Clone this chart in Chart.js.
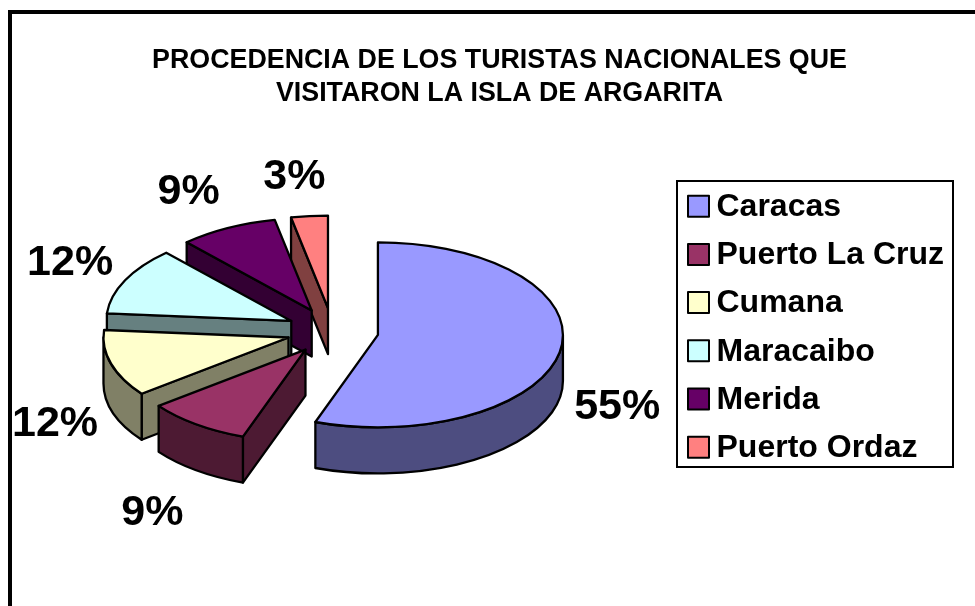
<!DOCTYPE html>
<html>
<head>
<meta charset="utf-8">
<style>html,body{margin:0;padding:0;background:#fff}canvas{display:block}</style>
<script src="https://cdn.jsdelivr.net/npm/chart.js@4/dist/chart.umd.js"></script>
</head>
<body>
<canvas id="c" width="975" height="606"></canvas>
<script>
const titleLines = ['PROCEDENCIA DE LOS TURISTAS NACIONALES QUE', 'VISITARON LA ISLA DE ARGARITA'];
const categories = ['Caracas', 'Puerto La Cruz', 'Cumana', 'Maracaibo', 'Merida', 'Puerto Ordaz'];
const shares = [55.49, 9.1, 11.7, 11.9, 8.61, 3.2];
const topColors = ['#9999FF', '#993366', '#FFFFCC', '#CCFFFF', '#660066', '#FF8080'];
const wallColors = ['#4D4D80', '#4D1A33', '#808066', '#668080', '#330033', '#804040'];

const FONT = '"Liberation Sans", Arial, sans-serif';
const SQUASH = 0.5, DEPTH = 46, EXPLODE = 46, STROKE = 2.3;
const LEGEND_FONT = 32, LEGEND_PAD = 16.2;
const LABEL_FONT = 43;
const labelNudge = [[57, 56.5], [-44, 88.5], [-56, 60.5], [-55, -17], [-39, -35.5], [-15, -38.5]];

const pie3d = {
  id: 'pie3d',
  afterLayout(chart) {
    const r = 185, cx = 332.6, cy = 331;
    chart.chartArea = {left: cx - r, right: cx + r, top: cy - r, bottom: cy + r, width: 2 * r, height: 2 * r};
    const t = chart.titleBlock;
    t.left = 24; t.right = 975; t.top = 0; t.bottom = 110;
    const l = chart.legend;
    const w = l.width, h = l.height;
    l.left = 672.3; l.right = l.left + w; l.top = 175; l.bottom = l.top + h;
  },
  beforeDraw(chart) {
    const c = chart.ctx;
    c.save();
    c.fillStyle = '#fff';
    c.fillRect(0, 0, chart.width, chart.height);
    c.strokeStyle = '#000';
    c.lineWidth = 4;
    c.beginPath();
    c.moveTo(10, 606); c.lineTo(10, 12); c.lineTo(975, 12);
    c.stroke();
    // legend frame
    c.lineWidth = 2;
    c.fillStyle = '#fff';
    c.fillRect(677, 181, 276, 286);
    c.strokeRect(677, 181, 276, 286);
    c.restore();
  },
  beforeDatasetsDraw(chart) {
    const c = chart.ctx;
    const arcs = chart.getDatasetMeta(0).data;
    c.save();
    c.lineJoin = 'round';
    c.strokeStyle = '#000';
    c.lineWidth = STROKE;
    for (let i = arcs.length - 1; i >= 0; i--) {
      const a = arcs[i];
      const mid = (a.startAngle + a.endAngle) / 2;
      const r = a.outerRadius;
      const ax = a.x + Math.cos(mid) * EXPLODE;
      const ay = a.y + Math.sin(mid) * EXPLODE * SQUASH;
      const px = t => ax + r * Math.cos(t);
      const py = t => ay + r * SQUASH * Math.sin(t);
      c.fillStyle = wallColors[i];
      // radial wall at the leading edge
      if (i !== 0) {
        c.beginPath();
        c.moveTo(ax, ay);
        c.lineTo(px(a.startAngle), py(a.startAngle));
        c.lineTo(px(a.startAngle), py(a.startAngle) + DEPTH);
        c.lineTo(ax, ay + DEPTH);
        c.closePath();
        c.fill(); c.stroke();
      }
      // outer curved wall: only the part facing the viewer
      const from = Math.max(a.startAngle, 0), to = Math.min(a.endAngle, Math.PI);
      if (to > from) {
        c.beginPath();
        c.ellipse(ax, ay, r, r * SQUASH, 0, from, to, false);
        c.lineTo(px(to), py(to) + DEPTH);
        c.ellipse(ax, ay + DEPTH, r, r * SQUASH, 0, to, from, true);
        c.closePath();
        c.fill(); c.stroke();
      }
      // top face: the library's own arc element, flattened
      c.save();
      c.translate(ax, ay);
      c.scale(1, SQUASH);
      c.translate(-a.x, -a.y);
      a.draw(c);
      c.restore();
      c.beginPath();
      c.moveTo(ax, ay);
      c.ellipse(ax, ay, r, r * SQUASH, 0, a.startAngle, a.endAngle, false);
      c.closePath();
      c.stroke();
    }
    // percentage labels
    c.fillStyle = '#000';
    c.font = 'bold ' + LABEL_FONT + 'px ' + FONT;
    c.textAlign = 'center';
    c.textBaseline = 'middle';
    arcs.forEach((a, i) => {
      const mid = (a.startAngle + a.endAngle) / 2;
      const rr = a.outerRadius + EXPLODE;
      c.fillText(Math.round(shares[i]) + '%',
        a.x + rr * Math.cos(mid) + labelNudge[i][0],
        a.y + rr * SQUASH * Math.sin(mid) + labelNudge[i][1]);
    });
    // legend swatches
    const l = chart.legend;
    c.lineWidth = 2;
    categories.forEach((n, i) => {
      const y = l.top + LEGEND_PAD + i * (LEGEND_FONT + LEGEND_PAD) + LEGEND_FONT / 2 - 1;
      c.fillStyle = topColors[i];
      c.fillRect(688, y - 10.5, 21, 21);
      c.strokeRect(688, y - 10.5, 21, 21);
    });
    c.restore();
    return false;
  }
};

new Chart(document.getElementById('c'), {
  type: 'pie',
  data: {
    labels: categories,
    datasets: [{data: shares, backgroundColor: topColors, borderWidth: 0}]
  },
  options: {
    responsive: false,
    animation: false,
    layout: {padding: 0},
    plugins: {
      tooltip: {enabled: false},
      title: {
        display: true,
        text: titleLines,
        color: '#000',
        font: {family: FONT, size: 26.8, weight: 'bold', lineHeight: 33 / 26.8},
        padding: {top: 44.5, bottom: 0}
      },
      legend: {
        display: true,
        position: 'right',
        align: 'start',
        labels: {
          color: '#000',
          font: {family: FONT, size: LEGEND_FONT, weight: 'bold'},
          boxWidth: 12,
          boxHeight: 12,
          padding: LEGEND_PAD,
          generateLabels(chart) {
            return Chart.overrides.pie.plugins.legend.labels.generateLabels(chart).map(it => Object.assign(it, {lineWidth: 0}));
          }
        }
      }
    }
  },
  plugins: [pie3d]
});
</script>
</body>
</html>
